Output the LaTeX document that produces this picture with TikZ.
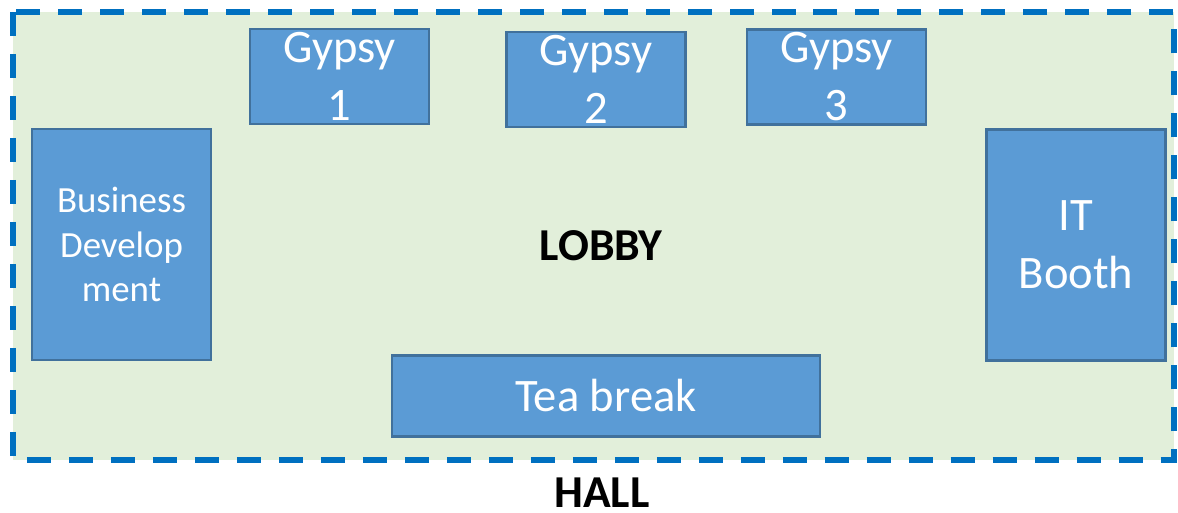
\documentclass[tikz,border=0pt]{standalone}
\usepackage{fontspec}
\setmainfont{Carlito}
\usepackage{tikz}
\usetikzlibrary{positioning}
\definecolor{lobbyFill}{HTML}{E2EFDA}
\definecolor{hallLine}{HTML}{0070C0}
\definecolor{boothFill}{HTML}{5B9BD5}
\definecolor{boothBorder}{HTML}{41719C}
\tikzset{
    % booth boxes inside the lobby
    booth/.style={rectangle,draw=boothBorder,fill=boothFill,line width=1.4pt,inner sep=0pt,text=white,align=center,font=\fontsize{26.5}{33}\selectfont},
    gypsy/.style={booth,minimum width=3.58cm,minimum height=1.9cm},
    tallbooth/.style={booth,minimum width=3.58cm,minimum height=4.62cm},
    % area outline and titles
    hallborder/.style={draw=hallLine,line width=0.12cm,dash pattern=on 0.48cm off 0.36cm,fill=lobbyFill},
    arealabel/.style={font=\fontsize{26}{31}\selectfont\bfseries,text=black,inner sep=0pt}
}

\begin{document}
\begin{tikzpicture}[x=0.02cm,y=-0.02cm]
    \useasboundingbox (0,0) rectangle (1178,513);

    % Lobby area
    \draw[hallborder] (13,12) rectangle (1174,460);
    \node[arealabel] (lobby) at (601,246) {LOBBY};
    \node[arealabel] (hall) at (602,493) {HALL};

    % Gypsy booths
    \node[gypsy] (gypsyA) at (339.5,76.5) {Gypsy\\1};
    \node[gypsy] (gypsyB) at (596,79.5) {Gypsy\\2};
    \node[gypsy] (gypsyC) at (836.5,77) {Gypsy\\3};

    % Side booths
    \node[tallbooth,font=\fontsize{21}{25.5}\selectfont] (busdev) at (121.5,244.5) {Business\\Develop\\ment};
    \node[tallbooth] (itbooth) at (1076,244.8) {IT\\Booth};

    % Tea break
    \node[booth,minimum width=8.56cm,minimum height=1.62cm] (tea) at (606,395.8) {Tea break};
\end{tikzpicture}
\end{document}
